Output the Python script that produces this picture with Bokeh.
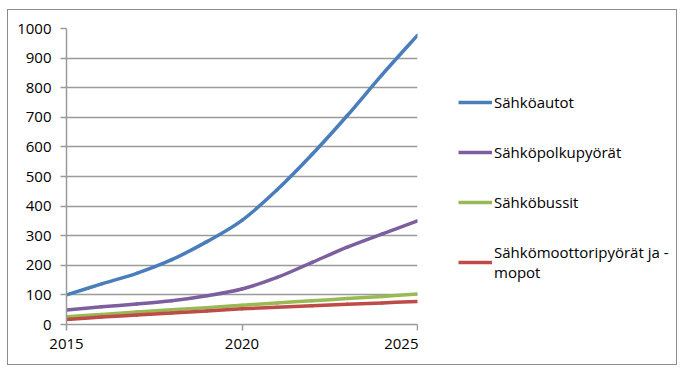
from bokeh.plotting import figure
from bokeh.layouts import row
from bokeh.models import FixedTicker, Legend, LegendItem, Range1d
from bokeh.embed import file_html
from bokeh.resources import INLINE

years = [2015, 2016, 2017, 2018, 2019, 2020, 2021, 2022, 2023, 2024, 2025]
autot = [100, 137, 173, 219, 280, 352, 455, 575, 706, 845, 977]
polkupyorat = [49, 60, 69, 80, 97, 120, 159, 210, 261, 306, 350]
bussit = [26, 34, 42, 50, 57, 65, 73, 80, 88, 95, 103]
moottoripyorat = [17, 25, 32, 39, 46, 53, 58, 63, 68, 73, 78]
labels = ["Sähköautot", "Sähköpolkupyörät", "Sähköbussit", "Sähkömoottoripyörät ja -\nmopot"]
colors = ["#4A7EBB", "#7D5FA0", "#98B954", "#BE4B48"]
x_ticks = [2015, 2020, 2025]
y_ticks = list(range(0, 1001, 100))

FONT = "Open Sans"


def smooth_segments(xs, ys):
    """Catmull-Rom style control points (Excel 'smoothed line')."""
    n = len(xs)
    out = dict(x0=[], y0=[], x1=[], y1=[], cx0=[], cy0=[], cx1=[], cy1=[])
    for i in range(n - 1):
        a = max(i - 1, 0)
        b = min(i + 2, n - 1)
        out["x0"].append(xs[i]); out["y0"].append(ys[i])
        out["x1"].append(xs[i + 1]); out["y1"].append(ys[i + 1])
        out["cx0"].append(xs[i] + (xs[i + 1] - xs[a]) / 6)
        out["cy0"].append(ys[i] + (ys[i + 1] - ys[a]) / 6)
        out["cx1"].append(xs[i + 1] - (xs[b] - xs[i]) / 6)
        out["cy1"].append(ys[i + 1] - (ys[b] - ys[i]) / 6)
    return out


H = 354
p = figure(width=410, height=H, output_backend="svg", toolbar_location=None,
           x_range=Range1d(2015, 2025), y_range=Range1d(0, 1000),
           min_border_left=58, min_border_right=1, min_border_top=18, min_border_bottom=40)
p.outline_line_color = None
p.background_fill_color = "white"

p.xgrid.grid_line_color = None
p.ygrid.grid_line_color = "#9a9a9a"
p.ygrid.grid_line_width = 1.5
p.xaxis.ticker = FixedTicker(ticks=x_ticks)
p.yaxis.ticker = FixedTicker(ticks=y_ticks)
for ax in (p.xaxis[0], p.yaxis[0]):
    ax.axis_line_color = "#9a9a9a"
    ax.axis_line_width = 1.5
    ax.major_tick_line_color = "#9a9a9a"
    ax.major_tick_line_width = 1.5
    ax.minor_tick_line_color = None
    ax.major_tick_in = 0
    ax.major_tick_out = 6
    ax.major_label_text_font = FONT
    ax.major_label_text_font_size = "15px"
    ax.major_label_text_color = "black"
p.yaxis.major_label_standoff = 9
p.xaxis.major_label_standoff = 8

series = [autot, polkupyorat, bussit, moottoripyorat]
for vals, col in zip(series, colors):
    p.bezier(source=smooth_segments(years, vals), x0="x0", y0="y0", x1="x1", y1="y1",
             cx0="cx0", cy0="cy0", cx1="cx1", cy1="cy1",
             line_color=col, line_width=3.5, line_cap="round")

# legend panel (its sample renderers lie outside the visible range)
lg = figure(width=258, height=H, output_backend="svg", toolbar_location=None,
            x_range=Range1d(0, 1), y_range=Range1d(0, 1),
            min_border_left=0, min_border_right=0, min_border_top=0, min_border_bottom=0)
lg.axis.visible = False
lg.grid.grid_line_color = None
lg.outline_line_color = None
items = []
for lab, col in zip(labels, colors):
    r = lg.line([-2, -1], [-2, -2], line_color=col, line_width=3.5)
    items.append(LegendItem(label=lab, renderers=[r]))

legend = Legend(items=items, location=(40, 42), border_line_color=None,
                background_fill_alpha=0, label_text_font=FONT, label_text_font_size="15px",
                label_text_color="black", glyph_width=34, glyph_height=20, label_height=20,
                label_standoff=2, spacing=30, padding=0, margin=0)
lg.add_layout(legend)

layout = row(p, lg, spacing=0)
layout.styles = {"border": "1px solid #8c8c8c", "margin-left": "7px", "margin-top": "9px"}

open("out.html", "w").write(file_html(layout, INLINE))
